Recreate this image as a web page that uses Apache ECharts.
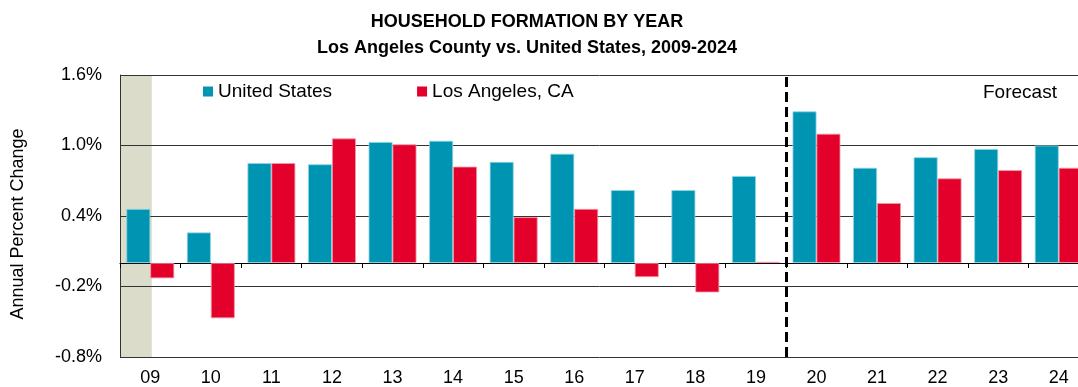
<!DOCTYPE html>
<html>
<head>
<meta charset="utf-8">
<script src="https://cdn.jsdelivr.net/npm/echarts@6/dist/echarts.min.js"></script>
<style>
  html, body { margin: 0; padding: 0; background: #fff; }
  #chart { width: 1078px; height: 387px; }
</style>
</head>
<body>
<div id="chart"></div>
<script>
// Year labels (2009-2024, two-digit)
const years = ['09','10','11','12','13','14','15','16','17','18','19','20','21','22','23','24'];

// Annual percent change in households
const unitedStates = [0.46, 0.26, 0.85, 0.84, 1.03, 1.04, 0.86, 0.93, 0.62, 0.62, 0.74, 1.29, 0.81, 0.90, 0.97, 1.00];
const losAngeles   = [-0.13, -0.47, 0.85, 1.06, 1.01, 0.82, 0.39, 0.46, -0.12, -0.25, 0.01, 1.10, 0.51, 0.72, 0.79, 0.81];

// Y-axis scale
const yMin = -0.8, yMax = 1.6, yStep = 0.6;

// Shaded recession band (in category units) and start of the forecast period
const shadeBand = [0, 0.525];
const forecastStart = 11;

const FONT = '"Liberation Sans", Arial, sans-serif';

const chart = echarts.init(document.getElementById('chart'), null, { renderer: 'canvas' });

chart.setOption({
  animation: false,
  backgroundColor: '#ffffff',
  textStyle: { fontFamily: FONT, color: '#000' },
  legend: {
    left: 203,
    top: 82,
    padding: 0,
    itemWidth: 10,
    itemHeight: 10,
    itemGap: 85,
    icon: 'rect',
    itemStyle: { borderWidth: 0 },
    textStyle: { fontFamily: FONT, fontSize: 19, color: '#000' },
    data: ['United States', 'Los Angeles, CA']
  },
  graphic: [
    {
      // two-line chart heading
      type: 'text',
      x: 527,
      y: 9,
      style: {
        text: 'HOUSEHOLD FORMATION BY YEAR\nLos Angeles County vs. United States, 2009-2024',
        font: 'bold 18px ' + FONT,
        fill: '#000',
        align: 'center',
        verticalAlign: 'top',
        lineHeight: 26
      }
    },
    {
      type: 'text',
      left: 983,
      top: 83,
      style: { text: 'Forecast', font: '19px ' + FONT, fill: '#000' }
    }
  ],
  // plot area runs a little past the right edge of the canvas
  grid: { left: 120, width: 969, top: 75, bottom: 30, containLabel: false, outerBoundsMode: 'none' },
  xAxis: [
    {
      type: 'category',
      data: years,
      position: 'bottom',
      axisLine: { onZero: true, lineStyle: { color: '#000', width: 1 } },
      axisTick: { show: true, length: 5, lineStyle: { color: '#000' } },
      axisLabel: { show: false },
      splitLine: { show: false }
    },
    {
      type: 'category',
      data: years,
      position: 'bottom',
      axisLine: { show: false, onZero: false },
      axisTick: { show: false },
      axisLabel: { show: true, margin: 12, fontSize: 18, color: '#000', fontFamily: FONT },
      splitLine: { show: false }
    },
    {
      type: 'value',
      min: 0,
      max: years.length,
      show: false
    }
  ],
  yAxis: {
    type: 'value',
    min: yMin,
    max: yMax,
    interval: yStep,
    name: 'Annual Percent Change',
    nameLocation: 'middle',
    nameGap: 93,
    nameTextStyle: { fontFamily: FONT, fontSize: 18, color: '#000', padding: [0, 16, 0, 0] },
    axisLine: { show: true, lineStyle: { color: '#333', width: 1 } },
    axisTick: { show: false },
    axisLabel: {
      margin: 18,
      fontSize: 18,
      color: '#000',
      fontFamily: FONT,
      formatter: v => v.toFixed(1) + '%'
    },
    splitLine: { show: true, lineStyle: { color: '#333', width: 1 } }
  },
  series: [
    {
      name: 'United States',
      type: 'bar',
      xAxisIndex: 0,
      data: unitedStates,
      barGap: '0%',
      barCategoryGap: '21%',
      itemStyle: { color: '#0094B3', borderColor: '#8fd4e3', borderWidth: 0.8 }
    },
    {
      name: 'Los Angeles, CA',
      type: 'bar',
      xAxisIndex: 0,
      data: losAngeles,
      barGap: '0%',
      barCategoryGap: '21%',
      itemStyle: { color: '#E3002B', borderColor: '#f199a8', borderWidth: 0.8 }
    },
    {
      // carrier for the shaded band and the forecast divider
      name: 'markers',
      type: 'line',
      xAxisIndex: 2,
      data: [],
      silent: true,
      markArea: {
        z: -1,
        silent: true,
        itemStyle: { color: '#DBDCCA' },
        label: { show: false },
        data: [[{ xAxis: shadeBand[0] }, { xAxis: shadeBand[1] }]]
      },
      markLine: {
        silent: true,
        symbol: ['none', 'none'],
        label: { show: false },
        lineStyle: { color: '#000', width: 3, type: [10, 5] },
        data: [{ xAxis: forecastStart }]
      }
    }
  ]
});
</script>
</body>
</html>
